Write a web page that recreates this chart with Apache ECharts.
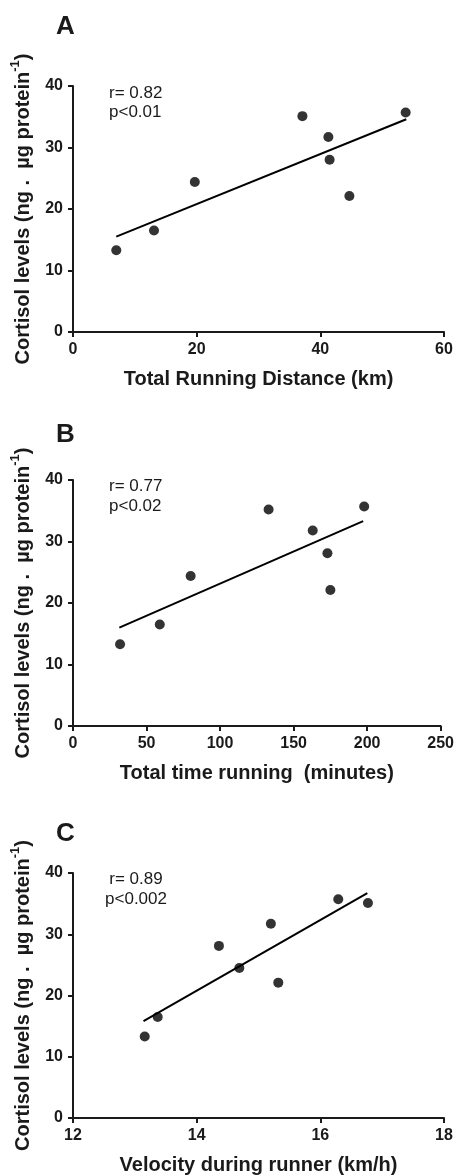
<!DOCTYPE html>
<html>
<head>
<meta charset="utf-8">
<script src="https://cdn.jsdelivr.net/npm/echarts@6/dist/echarts.min.js"></script>
<style>
html,body{margin:0;padding:0;background:#fff;}
#c{width:457px;height:1176px;}
</style>
</head>
<body>
<div id="c"></div>
<script>
// Panel A: total running distance (km) vs cortisol
const distKm = [7.0, 13.1, 19.7, 37.1, 41.3, 41.5, 44.7, 53.8];
const cortisolA = [13.3, 16.5, 24.4, 35.1, 31.7, 28.0, 22.1, 35.7];
const fitAx = [7.0, 53.9];
const fitAy = [15.5, 34.6];
// Panel B: total time running (minutes) vs cortisol
const timeMin = [32, 59, 80, 133, 163, 173, 175, 198];
const cortisolB = [13.3, 16.5, 24.4, 35.2, 31.8, 28.1, 22.1, 35.7];
const fitBx = [31.5, 197.3];
const fitBy = [16.0, 33.3];
// Panel C: velocity (km/h) vs cortisol
const velocity = [13.16, 13.37, 14.36, 14.69, 15.2, 15.32, 16.29, 16.77];
const cortisolC = [13.3, 16.5, 28.1, 24.5, 31.7, 22.1, 35.7, 35.1];
const fitCx = [13.14, 16.76];
const fitCy = [15.8, 36.7];

const panelLetters = ['A', 'B', 'C'];
const statR = ['r= 0.82', 'r= 0.77', 'r= 0.89'];
const statP = ['p<0.01', 'p<0.02', 'p<0.002'];
const xTitles = ['Total Running Distance (km)', 'Total time running  (minutes)', 'Velocity during runner (km/h)'];
const xRanges = [[0, 60, 20], [0, 250, 50], [12, 18, 2]];
const yRange = [0, 40, 10];

const FONT = '"Liberation Sans", Arial, sans-serif';
const TXT = '#1a1a1a';

const grids = [
  {left: 73, width: 371, top: 86, height: 246},
  {left: 73, width: 371, top: 480, height: 246},
  {left: 73, width: 371, top: 873, height: 247}
];

const xs = [distKm, timeMin, velocity];
const ys = [cortisolA, cortisolB, cortisolC];
const fx = [fitAx, fitBx, fitCx];
const fy = [fitAy, fitBy, fitCy];

const xAxis = [], yAxis = [], series = [], graphic = [];
const letterY = [29, 437, 836];
const statY = [[93, 112], [486, 506], [879, 899]];

for (let i = 0; i < 3; i++) {
  xAxis.push({
    type: 'value', gridIndex: i, min: xRanges[i][0], max: xRanges[i][1], interval: xRanges[i][2],
    splitLine: {show: false},
    axisLine: {lineStyle: {color: TXT, width: 2}},
    axisTick: {length: 5, lineStyle: {color: TXT, width: 2}},
    axisLabel: {color: TXT, fontSize: 16, fontWeight: 'bold', fontFamily: FONT, margin: 10},
    name: xTitles[i], nameLocation: 'middle', nameGap: 37,
    nameTextStyle: {color: TXT, fontSize: 20, fontWeight: 'bold', fontFamily: FONT}
  });
  yAxis.push({
    type: 'value', gridIndex: i, min: yRange[0], max: yRange[1], interval: yRange[2],
    splitLine: {show: false},
    axisLine: {show: true, lineStyle: {color: TXT, width: 2}},
    axisTick: {show: true, length: 5, lineStyle: {color: TXT, width: 2}},
    axisLabel: {color: TXT, fontSize: 16, fontWeight: 'bold', fontFamily: FONT, margin: 10},
    name: '{a|Cortisol levels (ng .  \u00b5g protein}{s|-1}{a|)}',
    nameLocation: 'middle', nameGap: 40, nameRotate: 90,
    nameTextStyle: {
      color: TXT, fontFamily: FONT,
      rich: {
        a: {fontSize: 20, fontWeight: 'bold', fontFamily: FONT, color: TXT, lineHeight: 24, verticalAlign: 'bottom'},
        s: {fontSize: 13, fontWeight: 'bold', fontFamily: FONT, color: TXT, lineHeight: 24, verticalAlign: 'top'}
      }
    }
  });
  series.push({
    type: 'line', xAxisIndex: i, yAxisIndex: i,
    data: fx[i].map((v, k) => [v, fy[i][k]]),
    showSymbol: false, symbol: 'none',
    lineStyle: {color: '#000', width: 2}, silent: true, z: 2
  });
  series.push({
    type: 'scatter', xAxisIndex: i, yAxisIndex: i,
    data: xs[i].map((v, k) => [v, ys[i][k]]),
    symbol: 'circle', symbolSize: 10,
    itemStyle: {color: '#000'}, silent: true, z: 3
  });
  graphic.push({
    type: 'text', left: 56, top: letterY[i] - 15,
    style: {text: panelLetters[i], fill: TXT, font: 'bold 26px ' + FONT}
  });
  const cx = i === 2 ? 136 : null;
  for (let j = 0; j < 2; j++) {
    const t = j === 0 ? statR[i] : statP[i];
    graphic.push({
      type: 'text', x: cx !== null ? cx : 109, y: statY[i][j],
      style: {text: t, fill: TXT, font: '17px ' + FONT,
        textAlign: cx !== null ? 'center' : 'left', textVerticalAlign: 'middle'}
    });
  }
}

const chart = echarts.init(document.getElementById('c'), null, {renderer: 'canvas'});
chart.setOption({
  animation: false,
  backgroundColor: '#fff',
  grid: grids,
  xAxis, yAxis, series, graphic
});
</script>
</body>
</html>
